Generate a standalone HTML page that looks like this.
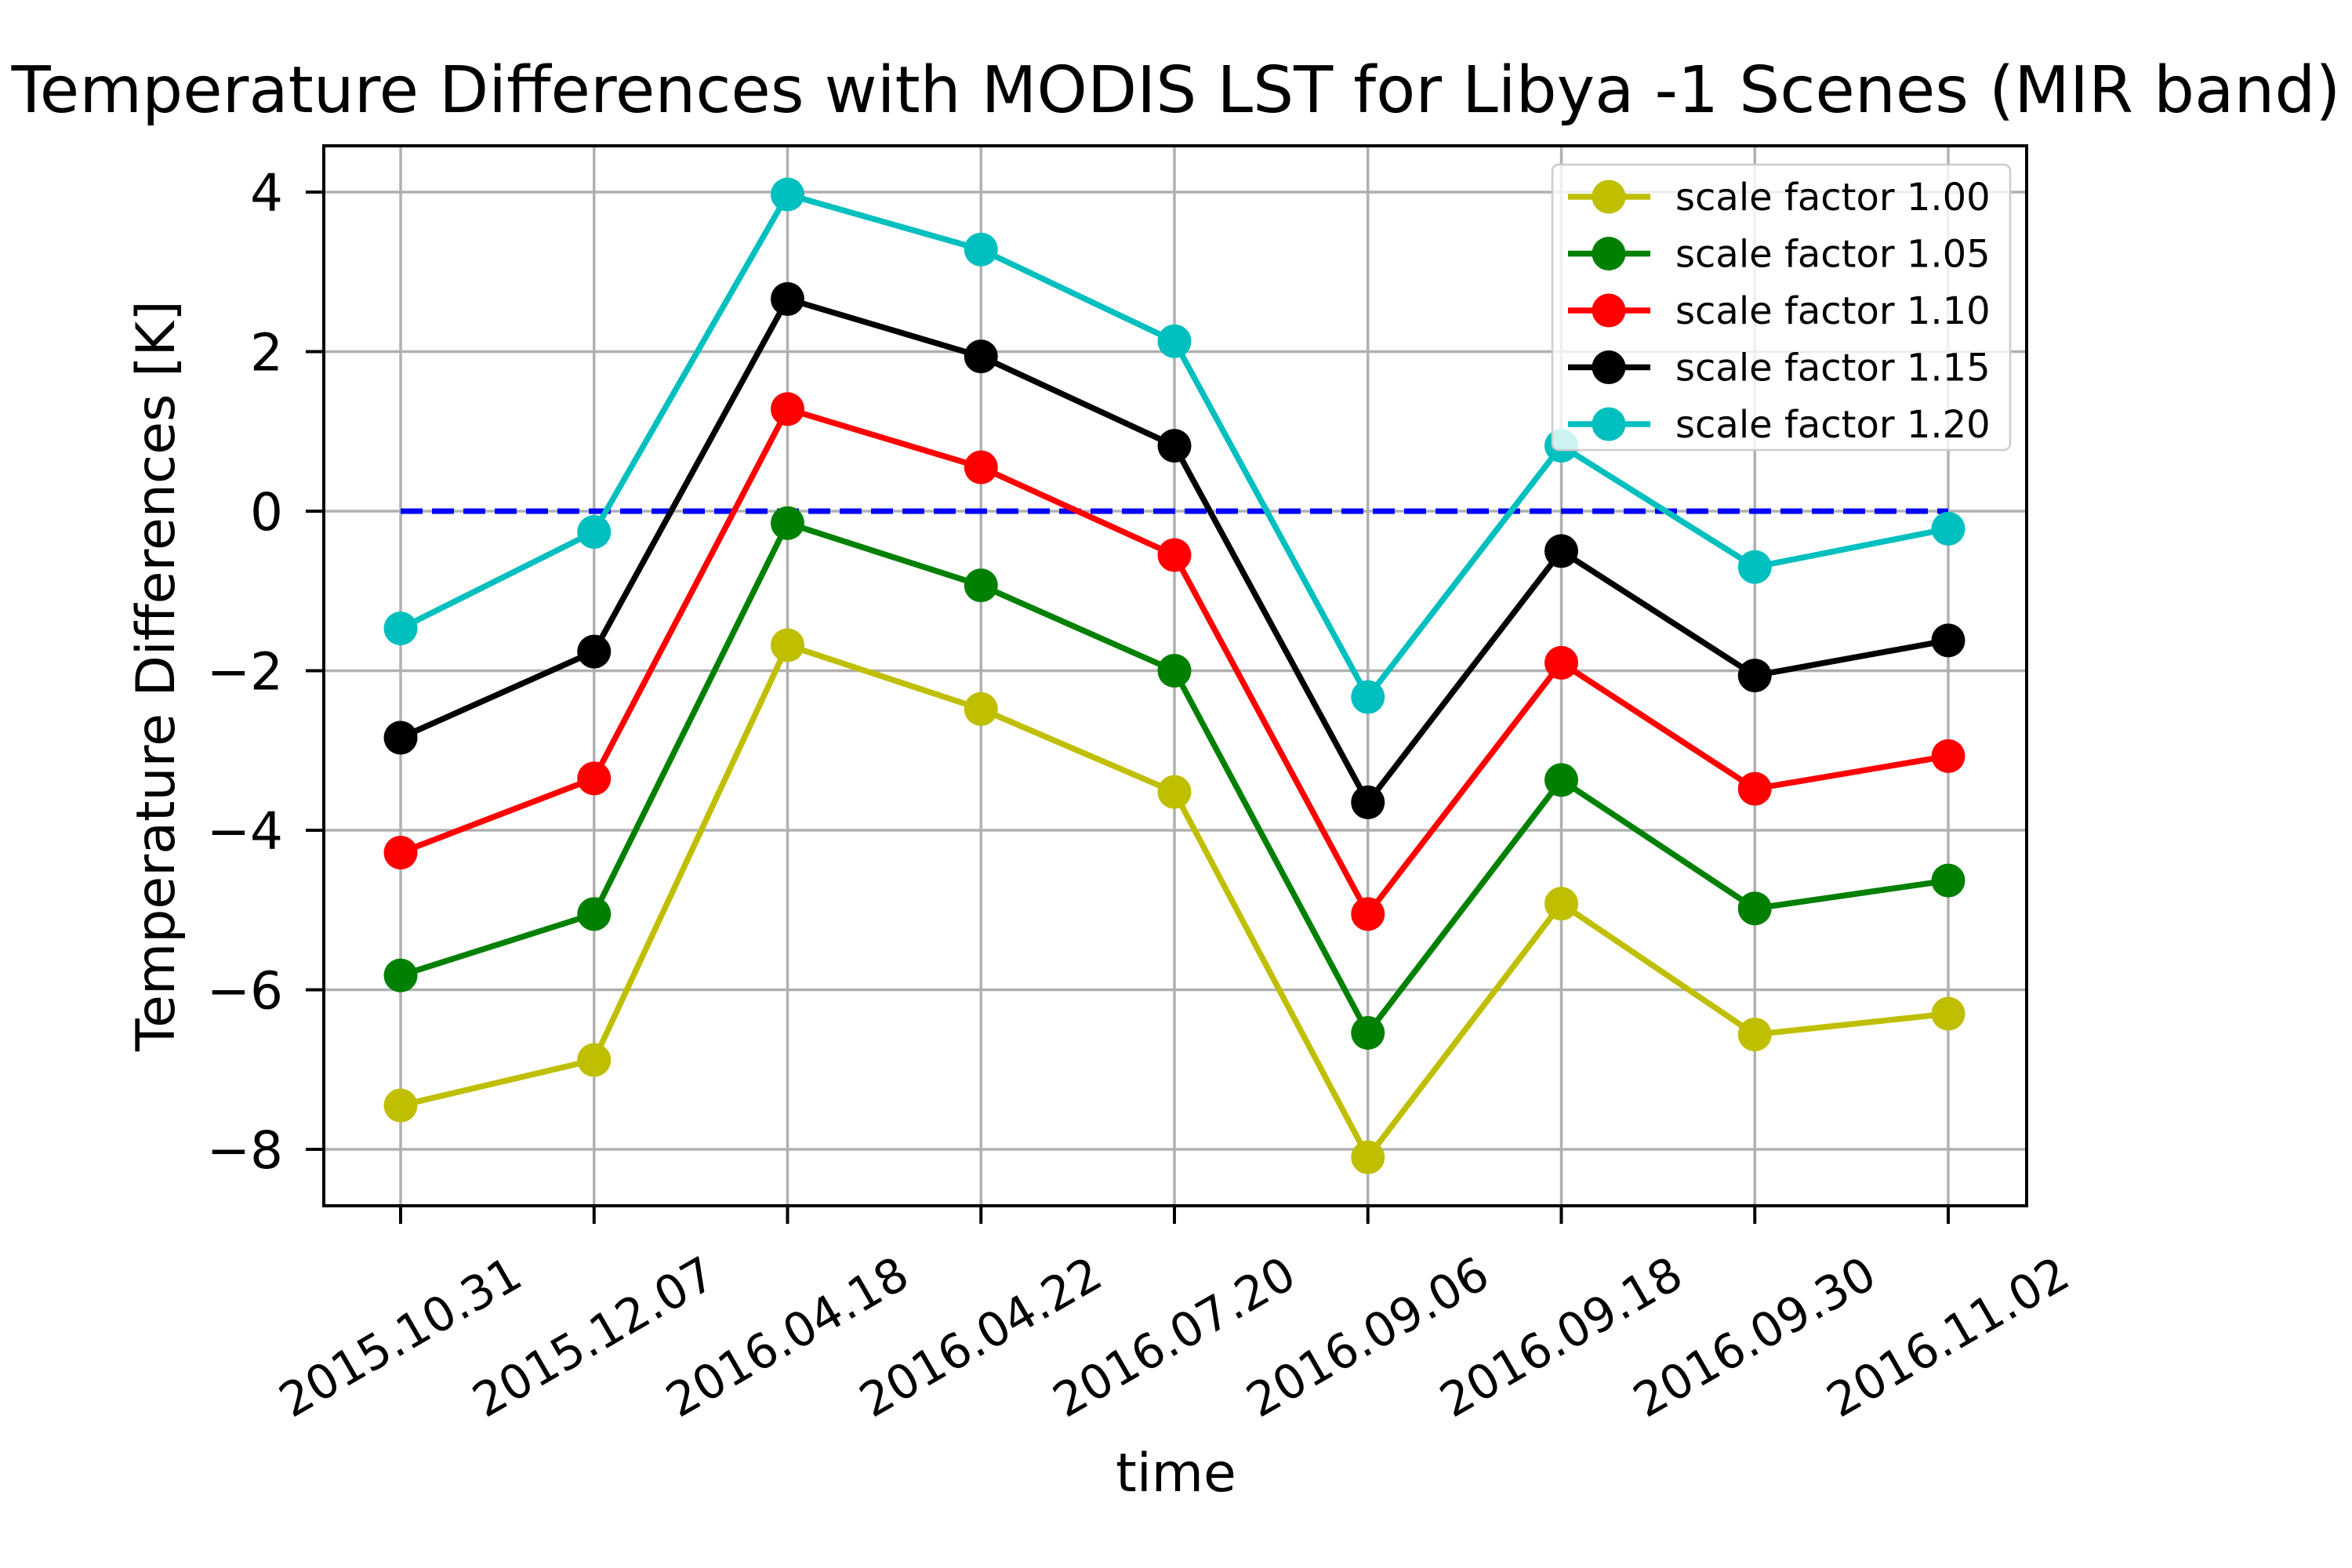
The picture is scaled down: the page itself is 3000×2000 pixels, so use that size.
<!DOCTYPE html>
<html><head><meta charset="utf-8"><style>body{margin:0;background:#fff}svg{display:block;font-family:"DejaVu Sans","Liberation Sans",sans-serif}</style></head>
<body>
<svg id="chart" width="3000" height="2000" viewBox="0 0 3000 2000" xmlns="http://www.w3.org/2000/svg">
<rect width="3000" height="2000" fill="#fff"/>
<text x="1500" y="143" font-size="82" text-anchor="middle">Temperature Differences with MODIS LST for Libya -1 Scenes (MIR band)</text>
<g id="grid"></g>
<g id="marks"></g>
<rect x="413" y="186" width="2172" height="1352" fill="none" stroke="#000" stroke-width="4"/>
<g id="axes"></g>
<g id="legend"></g>
<text x="1500" y="1902" font-size="68" text-anchor="middle">time</text>
<text transform="translate(222,862) rotate(-90)" font-size="68" text-anchor="middle">Temperature Differences [K]</text>
</svg>
<script>
const categories=["2015.10.31","2015.12.07","2016.04.18","2016.04.22","2016.07.20","2016.09.06","2016.09.18","2016.09.30","2016.11.02"];
const yTicks=[-8,-6,-4,-2,0,2,4];
const seriesNames=["scale factor 1.00","scale factor 1.05","scale factor 1.10","scale factor 1.15","scale factor 1.20"];
const seriesColors=["#bfbf00","#008000","#ff0000","#000000","#00bfbf"];
const s100=[-7.45,-6.88,-1.68,-2.48,-3.52,-8.1,-4.92,-6.56,-6.3];
const s105=[-5.82,-5.05,-0.15,-0.93,-2.0,-6.54,-3.37,-4.98,-4.63];
const s110=[-4.28,-3.35,1.28,0.55,-0.55,-5.05,-1.9,-3.48,-3.07];
const s115=[-2.84,-1.76,2.66,1.94,0.82,-3.65,-0.5,-2.06,-1.62];
const s120=[-1.47,-0.26,3.97,3.28,2.13,-2.33,0.82,-0.7,-0.22];
const series=[s100,s105,s110,s115,s120];
const NS="http://www.w3.org/2000/svg";
const L=413,R=2585,T=186,B=1538;
const x=i=>511+i*(2485-511)/(categories.length-1);
const y=v=>652-v*101.75;
function mk(tag,attrs,parent){const e=document.createElementNS(NS,tag);for(const k in attrs)e.setAttribute(k,attrs[k]);parent.appendChild(e);return e;}
const grid=document.getElementById('grid'),axes=document.getElementById('axes'),marks=document.getElementById('marks'),legend=document.getElementById('legend');
categories.forEach((c,i)=>{
 const g=mk('line',{x1:x(i),x2:x(i),y1:T,y2:B,stroke:'#b0b0b0','stroke-width':3.5},grid);
 
 
 const t=mk('line',{x1:x(i),x2:x(i),y1:B,y2:B+23,stroke:'#000','stroke-width':4},axes);
 
 
 const lb=mk('text',{transform:`translate(${x(i)},1706) rotate(-30)`,'font-size':60,'text-anchor':'middle','dominant-baseline':'central'},axes);
 lb.textContent=c;
 
 
});
yTicks.forEach(v=>{
 const g=mk('line',{x1:L,x2:R,y1:y(v),y2:y(v),stroke:'#b0b0b0','stroke-width':3.5},grid);
 
 
 const t=mk('line',{x1:L-23,x2:L,y1:y(v),y2:y(v),stroke:'#000','stroke-width':4},axes);
 
 
 const lb=mk('text',{x:L-52,y:y(v)+24,'font-size':66,'text-anchor':'end'},axes);
 lb.textContent=v<0?'\u2212'+Math.abs(v):String(v);
 
 
});
const zl=mk('line',{x1:x(0),x2:x(categories.length-1),y1:y(0),y2:y(0),stroke:'#0000ff','stroke-width':7,'stroke-dasharray':'28 12'},marks);


series.forEach((s,k)=>{
 const p=mk('polyline',{points:s.map((v,i)=>x(i)+','+y(v)).join(' '),fill:'none',stroke:seriesColors[k],'stroke-width':7.5},marks);
 
 
 s.forEach((v,i)=>{
  const c=mk('circle',{cx:x(i),cy:y(v),r:21.5,fill:seriesColors[k]},marks);
  
  
 });
});
const lbx=mk('rect',{x:1980,y:210,width:584,height:364,rx:8,fill:'#fff','fill-opacity':0.8,stroke:'#ccc','stroke-width':2.5},legend);


seriesNames.forEach((n,k)=>{
 const yy=251+k*72.5;
 const ln=mk('line',{x1:2000,x2:2105,y1:yy,y2:yy,stroke:seriesColors[k],'stroke-width':7.5},legend);
 
 
 const c=mk('circle',{cx:2052,cy:yy,r:21.5,fill:seriesColors[k]},legend);
 
 
 const t=mk('text',{x:2137,y:yy+17,'font-size':48},legend);
 t.textContent=n;
 
 
});
</script>
</body></html>
